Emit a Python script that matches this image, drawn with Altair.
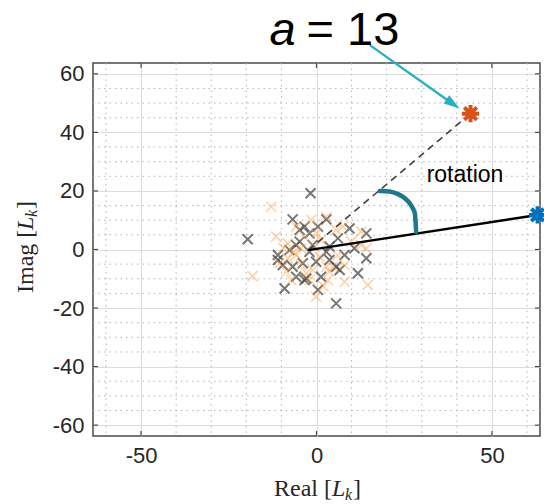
import altair as alt
import pandas as pd

# ---- data ----
gray_x = [-1.7, -19.6, -6.8, 2.8, -4.8, -2.0, 0.4, 6.1, 9.4, 14.2, 10.8, 14.2, -11.0, -11.0, -5.8,
          -7.7, -3.9, -0.1, 3.7, 5.6, -5.8, -3.4, -2.9, 1.3, 11.8, -9.1, 0.4, 5.6, -6.8, -9.6,
          -2.0, 8.0, 2.8, -4.8, 3.7, -3.4, -1.1, 6.6]
gray_y = [19.2, 3.5, 10.3, 10.3, 6.7, 5.5, 7.8, 3.8, 7.2, 5.5, 0.4, -3.0, -1.9, -3.6, 1.5,
          -0.2, -4.7, -4.2, -3.6, -5.9, -9.3, -10.4, -9.9, -9.3, -8.1, -13.3, -13.8, -18.4, -5.9, -5.3,
          -0.8, -1.9, -0.8, 2.7, 1.0, 7.8, 1.5, -7.0]
orange_x = [-12.9, -18.2, 2.8, 7.5, -11.5, -3.4, -5.8, -0.6, -8.2, -5.8, 0.9, 2.8, -1.1, -8.6, 8.0,
            3.2, -0.1, -2.9, 9.9, 12.7, -8.2, -4.4, 5.6, -1.5, -4.4, -10.6, 1.3, 3.7, -7.2, -2.0,
            14.6, 14.2, 12.7, 8.0, 4.6, -6.5, 0.0, 6.0, -9.5, 2.0]
orange_y = [14.6, -9.1, 11.2, 7.8, 4.4, 4.4, 7.8, 1.0, -3.0, -1.9, -2.5, -5.9, -7.0, -7.6, -11.0,
            -10.4, -16.1, -8.1, 2.7, 1.5, 2.1, -5.3, 6.7, 10.1, 0.4, -4.7, 3.2, -7.6, -10.4, -10.4,
            -12.1, 0.4, 6.1, -5.3, -5.9, -1.0, 5.5, -2.0, 0.5, -12.5]

origin = [-2.3, -0.2]
orange_star = [43.9, 46.4]
blue_star = [63.0, 11.8]
arc_x = [18.0, 20.8, 23.1, 25.1, 26.5, 27.4, 28.0, 28.2, 28.4]
arc_y = [20.0, 19.8, 19.0, 17.6, 15.9, 14.2, 12.5, 10.1, 6.0]
arrow_start = [15.2, 69.8]
arrow_head = [38.9, 49.7]
label_a_pos = [-13.4, 70.0]
rotation_pos = [31.4, 23.0]

x_major = [-50, 0, 50]
y_major = [-60, -40, -20, 0, 20, 40, 60]
x_minor = [-60, -40, -30, -20, -10, 10, 20, 30, 40, 60]
y_minor = [-55, -50, -45, -35, -30, -25, -15, -10, -5, 5, 10, 15, 25, 30, 35, 45, 50, 55]

W, H = 447, 373
LIM = 63.7
XS = alt.Scale(domain=[-LIM, LIM], nice=False, zero=False)
YS = alt.Scale(domain=[-LIM, LIM], nice=False, zero=False)
LBL = dict(labelFont="Liberation Sans", labelFontSize=22, labelColor="#262626",
           labelExpr="'' + datum.value", domain=False, ticks=False, title=None,
           grid=True, gridColor="#dcdcdc", gridWidth=1.2)
XA = alt.Axis(values=x_major, labelPadding=9, **LBL)
YA = alt.Axis(values=y_major, labelPadding=9, **LBL)


def X(f="x"):
    return alt.X(f"{f}:Q", scale=XS, axis=XA)


def Y(f="y"):
    return alt.Y(f"{f}:Q", scale=YS, axis=YA)


XPATH = "M-1,-1L1,1M-1,1L1,-1"
STAR = "M-1,0L1,0M0,-1L0,1M-0.72,-0.72L0.72,0.72M-0.72,0.72L0.72,-0.72"

gray_df = pd.DataFrame({"x": gray_x, "y": gray_y})
orange_df = pd.DataFrame({"x": orange_x, "y": orange_y})

minor_x = alt.Chart(pd.DataFrame({"x": x_minor})).mark_rule(
    color="#b4b4b4", strokeDash=[1.5, 4], strokeWidth=1).encode(x=X())
minor_y = alt.Chart(pd.DataFrame({"y": y_minor})).mark_rule(
    color="#b4b4b4", strokeDash=[1.5, 4], strokeWidth=1).encode(y=Y())

tick_col = "#4a4a4a"
xt = pd.DataFrame({"x": x_major})
yt = pd.DataFrame({"y": y_major})
ticks = [
    alt.Chart(xt).mark_rule(color=tick_col, strokeWidth=1.2).encode(x=X(), y=alt.value(0), y2=alt.value(5)),
    alt.Chart(xt).mark_rule(color=tick_col, strokeWidth=1.2).encode(x=X(), y=alt.value(H - 5), y2=alt.value(H)),
    alt.Chart(yt).mark_rule(color=tick_col, strokeWidth=1.2).encode(y=Y(), x=alt.value(0), x2=alt.value(5)),
    alt.Chart(yt).mark_rule(color=tick_col, strokeWidth=1.2).encode(y=Y(), x=alt.value(W - 5), x2=alt.value(W)),
]

gray_pts = alt.Chart(gray_df).mark_point(
    shape=XPATH, size=100, filled=False, stroke="#4a4a4a", strokeWidth=2, opacity=0.75
).encode(x=X(), y=Y())
orange_pts = alt.Chart(orange_df).mark_point(
    shape=XPATH, size=100, filled=False, stroke="#ff9a40", strokeWidth=1.6, opacity=0.45
).encode(x=X(), y=Y())

dash_df = pd.DataFrame({"x": [origin[0], orange_star[0]], "y": [origin[1], orange_star[1]]})
dashed = alt.Chart(dash_df).mark_line(color="#404040", strokeDash=[7, 5], strokeWidth=1.6).encode(x=X(), y=Y())
solid_df = pd.DataFrame({"x": [origin[0], blue_star[0]], "y": [origin[1], blue_star[1]]})
solid = alt.Chart(solid_df).mark_line(color="#000000", strokeWidth=2.4).encode(x=X(), y=Y())

arc_df = pd.DataFrame({"x": arc_x, "y": arc_y, "o": list(range(len(arc_x)))})
arc = alt.Chart(arc_df).mark_line(color="#1c7a88", strokeWidth=4.5, strokeCap="round",
                                  interpolate="monotone").encode(x=X(), y=Y(), order="o:O")

stars_df = pd.DataFrame({"x": [orange_star[0], blue_star[0]], "y": [orange_star[1], blue_star[1]],
                         "c": ["#d95319", "#0072bd"]})
stars = alt.Chart(stars_df).mark_point(shape=STAR, size=300, filled=False, strokeWidth=4,
                                       opacity=1).encode(
    x=X(), y=Y(), stroke=alt.Stroke("c:N", scale=None))

arrow_df = pd.DataFrame({"x": [arrow_start[0], arrow_head[0]], "y": [arrow_start[1], arrow_head[1]]})
arrow_line = alt.Chart(arrow_df).mark_line(color="#2aaec4", strokeWidth=2.4).encode(x=X(), y=Y())
arrow_tip = alt.Chart(pd.DataFrame({"x": [arrow_head[0]], "y": [arrow_head[1]]})).mark_point(
    shape="M0,-1L0.62,1L-0.62,1Z", size=260, filled=True, color="#2aaec4", opacity=1, angle=125
).encode(x=X(), y=Y())

a_df = pd.DataFrame({"x": [label_a_pos[0]], "y": [label_a_pos[1]]})
a_txt = alt.Chart(a_df).mark_text(text="a", font="Liberation Sans", fontStyle="italic", fontSize=47,
                                  align="left", baseline="alphabetic", color="#000000").encode(x=X(), y=Y())
eq_txt = alt.Chart(a_df).mark_text(text="= 13", font="Liberation Sans", fontSize=47, dx=37,
                                   align="left", baseline="alphabetic", color="#000000").encode(x=X(), y=Y())
rot_df = pd.DataFrame({"x": [rotation_pos[0]], "y": [rotation_pos[1]]})
rot_txt = alt.Chart(rot_df).mark_text(text="rotation", font="Liberation Sans", fontSize=23,
                                      align="left", baseline="alphabetic", color="#000000").encode(x=X(), y=Y())


def piece(text, px, py, dx, dy, size, style="normal", angle=0):
    return alt.Chart(alt.Data(values=[{}])).mark_text(
        text=text, dx=dx, dy=dy, fontSize=size, fontStyle=style, font="Liberation Serif",
        angle=angle, align="left", baseline="alphabetic", color="#262626"
    ).encode(x=alt.value(px), y=alt.value(py))


xt_x, xt_y = 181, 433
yt_x, yt_y = -60, 230
titles = [
    piece("Real [", xt_x, xt_y, 0, 0, 24),
    piece("L", xt_x, xt_y, 58, 0, 24, "italic"),
    piece("k", xt_x, xt_y, 71, 4, 16, "italic"),
    piece("]", xt_x, xt_y, 79, 0, 24),
    piece("Imag [", yt_x, yt_y, 0, 0, 24, angle=270),
    piece("L", yt_x, yt_y, 63, 0, 24, "italic", angle=270),
    piece("k", yt_x, yt_y, 76, 4, 16, "italic", angle=270),
    piece("]", yt_x, yt_y, 84, 0, 24, angle=270),
]

chart = alt.layer(
    minor_x, minor_y, *ticks, gray_pts, orange_pts, dashed, solid, arc, stars,
    arrow_line, arrow_tip, a_txt, eq_txt, rot_txt, *titles
).properties(
    width=W, height=H,
    autosize=alt.AutoSizeParams(type="none"),
    padding={"left": 93, "top": 63, "right": 4, "bottom": 68},
).configure_view(stroke="#4a4a4a", strokeWidth=1.5)

chart.save("out.html", embed_options={"renderer": "svg", "actions": False})
